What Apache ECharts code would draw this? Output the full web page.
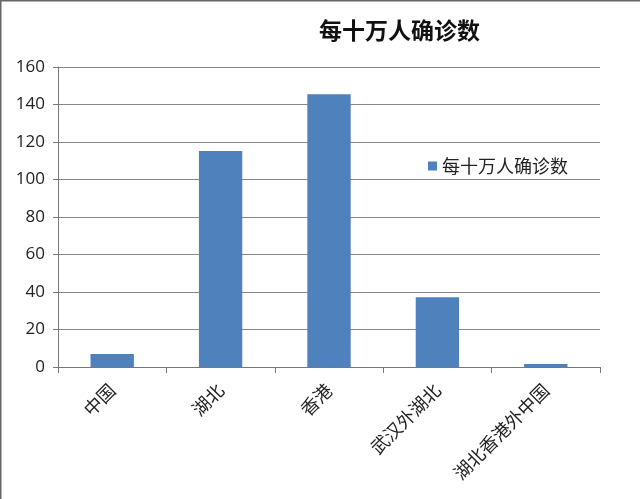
<!DOCTYPE html>
<html><head><meta charset="utf-8">
<script src="https://cdn.jsdelivr.net/npm/echarts@6/dist/echarts.min.js"></script>
<style>html,body{margin:0;padding:0;background:#fff}#c{width:640px;height:499px}</style>
</head><body><div id="c"></div>
<script>
const categories = ['中国', '湖北', '香港', '武汉外湖北', '湖北香港外中国'];
const values = [7, 115.2, 145.5, 37.2, 1.6];
const seriesName = '每十万人确诊数';
const titleText = '每十万人确诊数';

const chart = echarts.init(document.getElementById('c'));
chart.setOption({
  animation: false,
  backgroundColor: '#fff',
  title: {
    text: titleText, left: 314, top: 14,
    textStyle: {fontFamily: 'Noto Sans CJK SC', fontSize: 23, fontWeight: 'bold', color: '#111'}
  },
  legend: {
    data: [seriesName], left: 423, top: 152, orient: 'vertical',
    itemWidth: 9, itemHeight: 9, itemGap: 6, icon: 'rect',
    textStyle: {fontFamily: 'Noto Sans CJK SC', fontSize: 18, color: '#222'}
  },
  grid: {left: 58, right: 40, top: 67, bottom: 132, containLabel: false},
  xAxis: {
    type: 'category', data: categories,
    axisLine: {lineStyle: {color: '#777', width: 1}},
    axisTick: {show: true, length: 6, lineStyle: {color: '#777'}},
    axisLabel: {rotate: 45, margin: 20, fontSize: 18, color: '#222', fontFamily: 'Noto Sans CJK SC'}
  },
  yAxis: {
    type: 'value', min: 0, max: 160, interval: 20,
    axisLine: {show: true, lineStyle: {color: '#777'}},
    axisTick: {show: true, length: 5, lineStyle: {color: '#777'}},
    splitLine: {lineStyle: {color: '#888', width: 1}},
    axisLabel: {fontSize: 17, color: '#222', margin: 13, fontFamily: 'Open Sans'}
  },
  series: [{
    name: seriesName, type: 'bar', data: values, barWidth: '40%',
    itemStyle: {color: '#4f81bd'}
  }],
  graphic: [
    {type: 'line', shape: {x1: 0.5, y1: 0, x2: 0.5, y2: 499}, style: {stroke: '#666', lineWidth: 2}},
    {type: 'line', shape: {x1: 0, y1: 0.5, x2: 640, y2: 0.5}, style: {stroke: '#666', lineWidth: 2}}
  ]
});
</script></body></html>
